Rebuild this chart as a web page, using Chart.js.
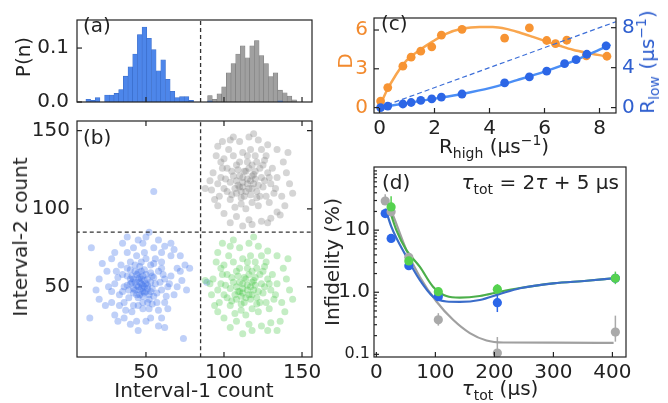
<!DOCTYPE html>
<html>
<head>
<meta charset="utf-8">
<script src="https://cdn.jsdelivr.net/npm/chart.js@4.4.1/dist/chart.umd.min.js"></script>
<style>
body { margin: 0; background: #fff; }
#fig { position: relative; width: 668px; height: 403px; overflow: hidden; font-family: "DejaVu Sans", sans-serif; color: #222; }
#fig canvas { position: absolute; left: 0; top: 0; }
.lbl { position: absolute; white-space: nowrap; line-height: 1; font-size: 20px; }
.c { transform: translate(-50%, -50%); }
.rot { transform: translate(-50%, -50%) rotate(-90deg); }
.l { transform: translateY(-50%); }
.r { transform: translate(-100%, -50%); }
sub, sup { font-size: 0.7em; line-height: 0; }
</style>
</head>
<body>
<div id="fig">
  <canvas id="histChart" width="668" height="403"></canvas>
  <canvas id="shotChart" width="668" height="403"></canvas>
  <canvas id="rateChart" width="668" height="403"></canvas>
  <canvas id="infChart" width="668" height="403"></canvas>

  <div class="lbl l" style="left:83px;top:25px">(a)</div>
  <div class="lbl l" style="left:83px;top:137px">(b)</div>
  <div class="lbl l" style="left:381px;top:23px">(c)</div>
  <div class="lbl l" style="left:382px;top:182px">(d)</div>
  <div class="lbl r" style="left:619px;top:182px"><i>τ</i><sub>tot</sub> = 2<i>τ</i> + 5 μs</div>

  <div class="lbl rot" style="left:23px;top:57px">P(n)</div>
  <div class="lbl rot" style="left:20px;top:237px">Interval-2 count</div>
  <div class="lbl c" style="left:194px;top:390px">Interval-1 count</div>

  <div class="lbl rot" style="left:345px;top:61px;color:#f28a2e">D</div>
  <div class="lbl rot" style="left:647px;top:62px;color:#2f5fcf">R<sub>low</sub> (μs<sup>−1</sup>)</div>
  <div class="lbl c" style="left:494px;top:146px">R<sub>high</sub> (μs<sup>−1</sup>)</div>

  <div class="lbl rot" style="left:332px;top:262px">Infidelity (%)</div>
  <div class="lbl c" style="left:500px;top:388px"><i>τ</i><sub>tot</sub> (μs)</div>
</div>

<script>
// ---- (a) histogram of photon counts
const histBlueX = [13, 16, 19, 22, 25, 28, 31, 34, 37, 40, 43, 46, 49, 52, 55, 58, 61, 64, 67, 70, 73, 76, 79, 91, 136];
const histBlueP = [0.005, 0.003, 0.008, 0, 0.013, 0.013, 0.016, 0.023, 0.048, 0.065, 0.089, 0.125, 0.139, 0.118, 0.097, 0.058, 0.078, 0.042, 0.020, 0.008, 0.010, 0.010, 0.003, 0.002, 0.002];
const histGrayX = [91, 94, 97, 100, 103, 106, 109, 112, 115, 118, 121, 124, 127, 130, 133, 136, 139, 142, 145];
const histGrayP = [0.012, 0.005, 0.015, 0.028, 0.054, 0.071, 0.089, 0.104, 0.082, 0.104, 0.114, 0.086, 0.071, 0.047, 0.054, 0.022, 0.017, 0.011, 0.004];
const histTicksY = [0, 0.1];
const countTicks = [50, 100, 150];
const threshold = 85;

// ---- (b) single shots, [interval-1 count, interval-2 count]
const blueShots = [
  [47,52],[45,50],[49,54],[43,53],[51,49],[46,56],[48,47],[42,49],[50,58],[44,45],[53,53],[40,52],[47,60],[52,45],[45,55],[49,50],[41,57],[55,56],[46,48],[50,52],
  [43,60],[48,44],[54,49],[39,48],[46,53],[51,55],[44,51],[48,57],[42,46],[53,59],[47,49],[45,43],[50,47],[40,55],[56,52],[44,58],[49,61],[38,51],[52,42],[47,55],
  [43,48],[51,51],[46,45],[54,57],[41,53],[49,46],[45,59],[48,51],[53,47],[42,55],
  [35,58],[58,60],[60,48],[33,45],[38,62],[57,40],[36,40],[62,55],[30,52],[55,65],[40,66],[50,68],[45,38],[52,36],[60,62],[32,56],[64,50],[37,35],[58,35],[44,70],
  [53,64],[28,47],[63,44],[42,38],[48,36],[34,64],[61,58],[56,68],[39,43],[66,57],[31,60],[47,66],[59,53],[36,50],[43,64],[54,39],[49,72],[38,57],[62,40],[41,34],
  [57,46],[35,47],[51,40],[46,63],[60,66],[33,38],[65,52],[48,40],[55,44],[40,61],
  [20,55],[22,65],[15,75],[25,60],[18,48],[28,68],[24,38],[14,30],[30,32],[70,62],[72,60],[68,45],[75,64],[78,62],[70,50],[66,70],[64,36],[60,30],[50,28],[44,28],
  [36,30],[55,75],[58,80],[48,78],[52,85],[42,75],[62,76],[38,72],[30,72],[66,78],[72,70],[58,25],[45,22],[40,26],[28,40],[26,50],[74,17],[55,111],[68,74],[50,82],
  [35,78],[20,42],[76,48],[73,54],[45,80],[60,72],[32,28],[62,24],[53,30],[38,82],[89,53]
];
const grayShots = [
  [115,116],[112,120],[118,113],[110,114],[120,119],[114,124],[108,118],[117,109],[122,115],[111,111],[116,126],[106,121],[119,122],[113,108],[124,120],[109,125],
  [121,111],[115,119],[107,113],[118,128],[112,117],[125,114],[104,117],[116,113],[120,124],[110,121],[114,111],[123,126],[108,110],[117,118],[113,124],[119,116],
  [105,124],[111,107],[126,118],[115,130],[109,115],[121,107],[118,121],[112,114],
  [100,113],[102,126],[98,120],[128,123],[130,116],[127,108],[104,106],[100,132],[106,134],[112,136],[120,134],[126,131],[131,126],[133,113],[129,104],[122,102],
  [114,100],[107,101],[97,108],[99,126],[103,138],[117,138],[124,138],[134,120],[96,116],[110,130],[125,128],[102,111],[132,110],[118,104],[108,128],[121,130],
  [105,109],[111,103],[127,134],[101,119],[129,120],[115,134],[123,108],[98,130],
  [93,123],[91,118],[95,134],[92,112],[94,106],[96,140],[104,144],[110,143],[116,146],[122,144],[128,141],[134,138],[138,130],[140,123],[142,116],[137,108],
  [139,102],[136,96],[130,94],[124,92],[116,93],[108,95],[104,91],[100,97],[112,89],[118,90],[128,91],[134,98],[96,102],[141,136],[99,143],[119,148],[106,146],
  [144,110],[88,113]
];
const greenShots = [
  [115,48],[112,52],[118,45],[110,47],[120,51],[114,55],[108,50],[117,42],[122,47],[111,44],[116,58],[106,53],[119,54],[113,40],[124,52],[109,57],[121,43],
  [115,51],[107,45],[118,60],[112,49],[125,46],[104,49],[116,45],[120,56],[110,53],[114,43],[123,58],[108,42],[117,50],[113,56],[119,48],[105,56],[111,39],
  [126,50],[115,62],[109,47],[121,39],[118,53],[112,46],
  [100,45],[102,58],[98,52],[128,55],[130,48],[127,40],[104,38],[100,64],[106,66],[112,68],[120,66],[126,63],[131,58],[133,45],[129,36],[122,34],[114,32],
  [107,33],[97,40],[99,58],[103,70],[117,70],[124,70],[134,52],[96,48],[110,62],[125,60],[102,43],[132,42],[118,36],[108,60],[121,62],[105,41],[111,35],
  [127,66],[101,51],[129,52],[115,66],[123,40],[98,62],
  [93,55],[91,52],[95,66],[92,45],[94,38],[96,72],[104,76],[110,75],[116,78],[122,76],[128,73],[134,70],[138,62],[140,55],[142,48],[137,40],[139,34],
  [136,28],[130,27],[124,25],[116,26],[108,28],[104,24],[100,30],[112,20],[118,22],[128,22],[134,22],[96,34],[141,68],[99,78],[119,82],[106,80],[144,42],[88,54]
];

// ---- (c) rates
const rHighD = [0.04, 0.3, 0.85, 1.15, 1.5, 1.9, 2.25, 3.0, 4.55, 5.45, 6.08, 6.4, 6.81, 7.52, 8.27];
const dValues = [0.5, 1.55, 3.2, 3.9, 4.36, 4.7, 5.6, 6.05, 5.38, 6.16, 5.19, 4.94, 5.21, 4.0, 3.97];
const dFitX = [0, 0.24, 0.61, 0.97, 1.45, 1.94, 2.42, 3.03, 3.64, 4.12, 4.61, 5.09, 5.58, 6.06, 6.55, 7.03, 7.52, 8.24];
const dFitY = [0.04, 1.2, 2.58, 3.62, 4.43, 5.12, 5.7, 6.11, 6.23, 6.23, 6.09, 5.81, 5.47, 5.12, 4.78, 4.47, 4.24, 3.97];
const rHighLow = [0.04, 0.3, 0.85, 1.15, 1.5, 1.9, 2.25, 3.0, 4.55, 5.45, 6.08, 6.73, 7.15, 7.54, 8.24];
const rLow = [0, 0.15, 0.36, 0.51, 0.72, 0.87, 1.05, 1.36, 2.47, 3.07, 3.65, 4.4, 4.8, 5.34, 6.18];
const rLowErrLo = [null, null, null, null, null, null, null, null, null, null, 3.4, 4.15, 4.55, 5.0, 5.8];
const rLowErrHi = [null, null, null, null, null, null, null, null, null, null, 3.9, 4.65, 5.05, 5.7, 6.6];
const lowFitX = [0, 1, 2, 3, 4, 5, 6, 7, 8, 8.4];
const lowFitY = [0, 0.45, 0.9, 1.37, 1.95, 2.75, 3.6, 4.6, 5.8, 6.3];
const equalX = [0, 8.6];
const equalY = [0, 8.6];
const rateTicksX = [0, 2, 4, 6, 8];
const dTicks = [0, 3, 6];
const rLowTicks = [0, 4, 8];

// ---- (d) infidelity vs total time
const tauGray = [15, 25, 55, 105, 205, 405];
const infGray = [29.5, 19.7, 3.65, 0.36, 0.105, 0.228];
const infGrayLo = [26, 17, 3.2, 0.29, 0.09, 0.16];
const infGrayHi = [38, 22, 4.1, 0.46, 0.19, 0.42];
const tauBlue = [15, 25, 55, 105, 205, 405];
const infBlue = [18.5, 7.36, 2.67, 0.85, 0.68, 1.68];
const infBlueLo = [16.5, 6.6, 2.4, 0.78, 0.48, 1.45];
const infBlueHi = [20.5, 8.2, 3.0, 0.93, 0.95, 1.95];
const tauGreen = [25, 55, 105, 205, 405];
const infGreen = [23.7, 3.2, 1.02, 1.12, 1.68];
const infGreenLo = [20, 2.9, 0.95, 0.95, 1.35];
const infGreenHi = [35, 3.6, 1.12, 1.35, 2.15];
const grayFitX = [15.3, 28.2, 50.9, 73.5, 101.8, 130, 158.4, 186.7, 215, 300, 402];
const grayFitY = [34, 17.4, 4.77, 1.78, 0.71, 0.36, 0.22, 0.167, 0.155, 0.154, 0.153];
const blueFitX = [15.3, 25.5, 50.9, 73.5, 96, 118.7, 141.4, 175.3, 209.3, 243.3, 300, 356.5, 402];
const blueFitY = [22.3, 11.3, 3.73, 1.58, 0.85, 0.71, 0.70, 0.75, 0.94, 1.16, 1.39, 1.53, 1.68];
const greenFitX = [20, 33.9, 50.9, 73.5, 96, 118.7, 141.4, 175.3, 209.3, 243.3, 300, 356.5, 402];
const greenFitY = [25, 10, 4.77, 2.58, 1.23, 0.87, 0.82, 0.87, 1.02, 1.17, 1.39, 1.53, 1.68];
const tauTicks = [0, 100, 200, 300, 400];
const infTicks = [0.1, 1, 10];
const infMinor = [0.2, 0.3, 0.4, 0.5, 0.6, 0.7, 0.8, 0.9, 2, 3, 4, 5, 6, 7, 8, 9, 20, 30, 40, 50, 60, 70, 80, 90];

Chart.defaults.font.family = '"DejaVu Sans", sans-serif';
Chart.defaults.font.size = 20;
Chart.defaults.color = '#222';
Chart.defaults.animation = false;
Chart.defaults.events = [];
Chart.defaults.plugins.legend.display = false;
Chart.defaults.plugins.tooltip.enabled = false;

function pts(xs, ys) {
    return xs.map((x, i) => ({ x: x, y: ys[i] }));
}
function pairs(list) {
    return list.map((p) => ({ x: p[0], y: p[1] }));
}
function fixTicks(values) {
    return function (scale) {
        scale.ticks = values.map((v) => ({ value: v }));
    };
}
function fixSize(key, size) {
    return function (scale) {
        scale[key] = size;
    };
}

// box around the plot area plus inward tick marks
const framePlugin = {
    id: "frame",
    afterDatasetsDraw(chart, args, opts) {
        const ctx = chart.ctx;
        const a = chart.chartArea;
        ctx.save();
        ctx.strokeStyle = "#222";
        ctx.lineWidth = 1.2;
        ctx.strokeRect(a.left, a.top, a.right - a.left, a.bottom - a.top);
        (opts.marks || []).forEach((m) => {
            const s = chart.scales[m.scale];
            const len = m.len || 5;
            m.values.forEach((v) => {
                const p = s.getPixelForValue(v);
                ctx.beginPath();
                m.sides.forEach((side) => {
                    if (side === "bottom") { ctx.moveTo(p, a.bottom); ctx.lineTo(p, a.bottom - len); }
                    if (side === "top") { ctx.moveTo(p, a.top); ctx.lineTo(p, a.top + len); }
                    if (side === "left") { ctx.moveTo(a.left, p); ctx.lineTo(a.left + len, p); }
                    if (side === "right") { ctx.moveTo(a.right, p); ctx.lineTo(a.right - len, p); }
                });
                ctx.stroke();
            });
        });
        ctx.restore();
    },
};

// vertical error bars from errLo / errHi arrays on a dataset
const errorBarPlugin = {
    id: "errorBars",
    beforeDatasetsDraw(chart) {
        const ctx = chart.ctx;
        chart.data.datasets.forEach((ds, i) => {
            if (!ds.errLo) return;
            const meta = chart.getDatasetMeta(i);
            const ys = chart.scales[meta.yAxisID];
            ctx.save();
            ctx.strokeStyle = ds.backgroundColor;
            ctx.lineWidth = 1.5;
            meta.data.forEach((el, j) => {
                if (ds.errLo[j] == null) return;
                ctx.beginPath();
                ctx.moveTo(el.x, ys.getPixelForValue(ds.errLo[j]));
                ctx.lineTo(el.x, ys.getPixelForValue(ds.errHi[j]));
                ctx.stroke();
            });
            ctx.restore();
        });
    },
};

const noGrid = { display: false, drawTicks: false };
const noBorder = { display: false };

// (a)
new Chart(document.getElementById("histChart"), {
    type: "bar",
    data: {
        datasets: [
            {
                type: "line",
                data: pts([threshold, threshold], [0, 0.152]),
                borderColor: "#333",
                borderWidth: 1.3,
                borderDash: [4, 3],
                pointRadius: 0,
                order: 1,
            },
            {
                data: pts(histBlueX, histBlueP),
                backgroundColor: "#4d86ea",
                borderColor: "#3a6cc8",
                borderWidth: 0.6,
                grouped: false,
                barPercentage: 1,
                categoryPercentage: 1,
                order: 2,
            },
            {
                data: pts(histGrayX, histGrayP),
                backgroundColor: "#a0a0a0",
                borderColor: "#7c7c7c",
                borderWidth: 0.6,
                grouped: false,
                barPercentage: 1,
                categoryPercentage: 1,
                order: 3,
            },
        ],
    },
    options: {
        responsive: false,
        layout: { padding: { left: 17, right: 356, top: 9, bottom: 291 } },
        scales: {
            x: {
                type: "linear", min: 5.8, max: 156.4, offset: false,
                grid: noGrid, border: noBorder, ticks: { display: false },
                afterFit: fixSize("height", 10),
            },
            y: {
                min: 0, max: 0.152,
                grid: noGrid, border: noBorder,
                ticks: { padding: 8, callback: (v) => v.toFixed(1) },
                afterFit: fixSize("width", 60),
                afterBuildTicks: fixTicks(histTicksY),
            },
        },
        plugins: {
            frame: {
                marks: [
                    { scale: "x", values: countTicks, sides: ["bottom"] },
                    { scale: "y", values: histTicksY, sides: ["left"] },
                ],
            },
        },
    },
    plugins: [framePlugin],
});

// (b)
new Chart(document.getElementById("shotChart"), {
    type: "scatter",
    data: {
        datasets: [
            { data: pts([threshold, threshold], [5, 157]), showLine: true, borderColor: "#333", borderWidth: 1.3, borderDash: [4, 3], pointRadius: 0 },
            { data: pts([5, 157], [threshold, threshold]), showLine: true, borderColor: "#333", borderWidth: 1.3, borderDash: [4, 3], pointRadius: 0 },
            { data: pairs(greenShots), backgroundColor: "rgba(70,200,70,0.32)", borderWidth: 0, pointRadius: 3.5 },
            { data: pairs(grayShots), backgroundColor: "rgba(125,125,125,0.32)", borderWidth: 0, pointRadius: 3.5 },
            { data: pairs(blueShots), backgroundColor: "rgba(55,110,232,0.32)", borderWidth: 0, pointRadius: 3.5 },
        ],
    },
    options: {
        responsive: false,
        layout: { padding: { left: 17, right: 356, top: 121, bottom: 16 } },
        scales: {
            x: {
                type: "linear", min: 5.8, max: 156.4,
                grid: noGrid, border: noBorder,
                ticks: { padding: 4 },
                afterFit: fixSize("height", 30),
                afterBuildTicks: fixTicks(countTicks),
            },
            y: {
                type: "linear", min: 5.1, max: 156.2,
                grid: noGrid, border: noBorder,
                ticks: { padding: 7 },
                afterFit: fixSize("width", 60),
                afterBuildTicks: fixTicks(countTicks),
            },
        },
        plugins: {
            frame: {
                marks: [
                    { scale: "x", values: countTicks, sides: ["bottom", "top"] },
                    { scale: "y", values: countTicks, sides: ["left", "right"] },
                ],
            },
        },
    },
    plugins: [framePlugin],
});

// (c)
new Chart(document.getElementById("rateChart"), {
    type: "scatter",
    data: {
        datasets: [
            { data: pts(rHighLow, rLow), yAxisID: "yR", backgroundColor: "#2c66e6", borderWidth: 0, pointRadius: 4.4, errLo: rLowErrLo, errHi: rLowErrHi, order: 1 },
            { data: pts(lowFitX, lowFitY), yAxisID: "yR", showLine: true, borderColor: "#4b8ef5", borderWidth: 2.5, pointRadius: 0, cubicInterpolationMode: "monotone", order: 2 },
            { data: pts(equalX, equalY), yAxisID: "yR", showLine: true, borderColor: "#3d6fd8", borderWidth: 1.2, borderDash: [5, 3], pointRadius: 0, order: 3 },
            { data: pts(rHighD, dValues), yAxisID: "yD", backgroundColor: "#f79433", borderWidth: 0, pointRadius: 4.4, order: 4 },
            { data: pts(dFitX, dFitY), yAxisID: "yD", showLine: true, borderColor: "#f9a64e", borderWidth: 2.5, pointRadius: 0, cubicInterpolationMode: "monotone", order: 5 },
        ],
    },
    options: {
        responsive: false,
        layout: { padding: { left: 334, right: 22, top: 8, bottom: 265 } },
        scales: {
            x: {
                type: "linear", min: -0.2, max: 8.6,
                grid: noGrid, border: noBorder,
                ticks: { padding: 4 },
                afterFit: fixSize("height", 25),
                afterBuildTicks: fixTicks(rateTicksX),
            },
            yD: {
                type: "linear", position: "left", min: -0.42, max: 6.93,
                grid: noGrid, border: noBorder,
                ticks: { padding: 6, color: "#f28a2e" },
                afterFit: fixSize("width", 40),
                afterBuildTicks: fixTicks(dTicks),
            },
            yR: {
                type: "linear", position: "right", min: -0.54, max: 8.97,
                grid: noGrid, border: noBorder,
                ticks: { padding: 6, color: "#2f5fcf" },
                afterFit: fixSize("width", 30),
                afterBuildTicks: fixTicks(rLowTicks),
            },
        },
        plugins: {
            frame: {
                marks: [
                    { scale: "x", values: rateTicksX, sides: ["bottom"] },
                    { scale: "yD", values: dTicks, sides: ["left"] },
                    { scale: "yR", values: rLowTicks, sides: ["right"] },
                ],
            },
        },
    },
    plugins: [framePlugin, errorBarPlugin],
});

// (d)
new Chart(document.getElementById("infChart"), {
    type: "scatter",
    data: {
        datasets: [
            { data: pts(tauGreen, infGreen), backgroundColor: "#55d24f", borderWidth: 0, pointRadius: 4.6, errLo: infGreenLo, errHi: infGreenHi, order: 1 },
            { data: pts(tauGray, infGray), backgroundColor: "#a9a9a9", borderWidth: 0, pointRadius: 4.6, errLo: infGrayLo, errHi: infGrayHi, order: 2 },
            { data: pts(tauBlue, infBlue), backgroundColor: "#2b66e8", borderWidth: 0, pointRadius: 4.6, errLo: infBlueLo, errHi: infBlueHi, order: 3 },
            { data: pts(blueFitX, blueFitY), showLine: true, borderColor: "#3a6cc9", borderWidth: 2.2, pointRadius: 0, cubicInterpolationMode: "monotone", order: 4 },
            { data: pts(greenFitX, greenFitY), showLine: true, borderColor: "#4caf4a", borderWidth: 2.2, pointRadius: 0, cubicInterpolationMode: "monotone", order: 5 },
            { data: pts(grayFitX, grayFitY), showLine: true, borderColor: "#a0a0a0", borderWidth: 2.2, pointRadius: 0, cubicInterpolationMode: "monotone", order: 6 },
        ],
    },
    options: {
        responsive: false,
        layout: { padding: { left: 334, right: 42, top: 167, bottom: 16 } },
        scales: {
            x: {
                type: "linear", min: -4, max: 423,
                grid: noGrid, border: noBorder,
                ticks: { padding: 4 },
                afterFit: fixSize("height", 30),
                afterBuildTicks: fixTicks(tauTicks),
            },
            y: {
                type: "logarithmic", min: 0.0906, max: 104,
                grid: noGrid, border: noBorder,
                ticks: {
                    padding: 4,
                    font: (c) => (c.tick && c.tick.value < 0.5 ? { size: 16 } : { size: 20 }),
                    callback: (v) => (v >= 10 ? "10" : v >= 1 ? "1.0" : "0.1"),
                },
                afterFit: fixSize("width", 40),
                afterBuildTicks: fixTicks(infTicks),
            },
        },
        plugins: {
            frame: {
                marks: [
                    { scale: "x", values: tauTicks, sides: ["bottom"] },
                    { scale: "y", values: infTicks, sides: ["left"] },
                    { scale: "y", values: infMinor, sides: ["left"], len: 3 },
                ],
            },
        },
    },
    plugins: [framePlugin, errorBarPlugin],
});
</script>
</body>
</html>
